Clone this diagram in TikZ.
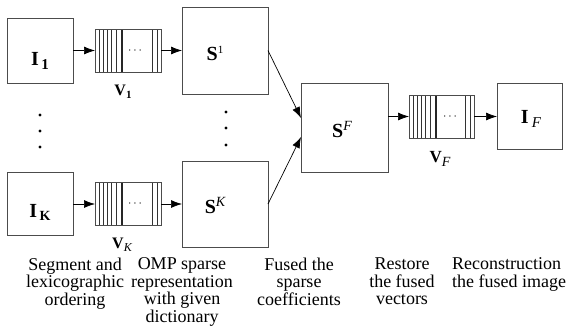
\documentclass[tikz,border=0pt]{standalone}
\usepackage{fontspec}
\setmainfont{Liberation Serif}[BoldFont={Liberation Serif Bold},ItalicFont={Liberation Serif Italic},BoldItalicFont={Liberation Serif Bold Italic}]
\usetikzlibrary{arrows.meta,calc}
\begin{document}
\begin{tikzpicture}[x=1pt,y=-1pt,
  box/.style={draw=black!70,line width=0.8pt,inner sep=0pt,outer sep=0pt},
  img/.style={box,minimum width=66pt,minimum height=65pt},
  coef/.style={box,minimum width=86pt,minimum height=87pt},
  vecbox/.style={box,minimum width=66pt,minimum height=43pt,
    font=\fontsize{12}{12}\selectfont,
    path picture={
      \foreach \d in {4,8,12,16,21}{
        \draw[line width=0.6pt,black!80] ([xshift=\d pt]path picture bounding box.south west) -- ([xshift=\d pt]path picture bounding box.north west);}
      \draw[line width=1.1pt,black!85] ([xshift=27pt]path picture bounding box.south west) -- ([xshift=27pt]path picture bounding box.north west);
      \foreach \d in {4,9}{
        \draw[line width=0.6pt,black!80] ([xshift=-\d pt]path picture bounding box.south east) -- ([xshift=-\d pt]path picture bounding box.north east);}
    }},
  arr/.style={-{Latex[length=11pt,width=8pt]},line width=0.7pt},
  lbl/.style={anchor=base,inner sep=0pt,font=\fontsize{20}{20}\selectfont},
  vlbl/.style={anchor=base,inner sep=0pt,font=\fontsize{17}{17}\selectfont},
  captxt/.style={anchor=north,inner sep=0pt,align=center,font=\fontsize{18}{17.6}\selectfont},
  dotfill/.style={fill=black}
]
\useasboundingbox (0,0) rectangle (571,327);

% boxes
\node[img] (I1) at (40,50.5) {};
\node[img,minimum height=63pt] (IK) at (40,204) {};
\node[vecbox] (V1) at (128,50.5) {\hspace{14pt}$\cdots$};
\node[vecbox] (VK) at (128,204) {\hspace{14pt}$\cdots$};
\node[coef] (S1) at (225,50.5) {};
\node[coef,minimum height=86pt] (SK) at (225,204) {};
\node[coef,minimum width=87pt,minimum height=89pt] (SF) at (344.5,127.5) {};
\node[vecbox,minimum width=65pt] (VF) at (441.5,116.5) {\hspace{17pt}$\cdots$};
\node[img,minimum width=65pt,minimum height=66pt] (IF) at (529.5,116) {};

% labels in boxes
\node[lbl] (I1t) at (40,65) {\textbf{I}\raisebox{-4pt}{\fontsize{15}{15}\selectfont\,\bfseries 1}};
\node[lbl] (IKt) at (40,217) {\textbf{I}\raisebox{-3pt}{\fontsize{14}{14}\selectfont\,\bfseries K}};
\node[lbl] (S1t) at (215,60) {\textbf{S}\raisebox{7pt}{\fontsize{11}{11}\selectfont 1}};
\node[lbl] (SKt) at (215,213) {\textbf{S}\raisebox{7pt}{\fontsize{14}{14}\selectfont\itshape K}};
\node[lbl] (SFt) at (342,137) {\textbf{S}\raisebox{7pt}{\fontsize{14}{14}\selectfont\itshape F}};
\node[lbl] (IFt) at (531,123) {\textbf{I}\,\raisebox{-4pt}{\fontsize{15}{15}\selectfont\itshape F}};

% vector labels
\node[vlbl,font=\fontsize{16}{16}\selectfont] (V1t) at (123,95) {\textbf{V}\raisebox{-3pt}{\fontsize{11}{11}\selectfont\bfseries 1}};
\node[vlbl,font=\fontsize{16}{16}\selectfont] (VKt) at (122,248) {\textbf{V}\raisebox{-3pt}{\fontsize{12}{12}\selectfont\itshape K}};
\node[vlbl] (VFt) at (440,162) {\textbf{V}\raisebox{-4pt}{\fontsize{14}{14}\selectfont\itshape F}};

% connectors
\draw[arr] (I1) -- (V1);
\draw[arr] (V1) -- (S1);
\draw[arr] (IK) -- (VK);
\draw[arr] (VK) -- (SK);
\draw[arr] (S1.east) -- ($(SF.west)+(0,-9.5)$);
\draw[arr] (SK.east) -- ($(SF.west)+(0,9.5)$);
\draw[arr] (SF.east |- VF.west) -- (VF.west);
\draw[arr] (VF.east) -- (VF.east -| IF.west);

% vertical ellipses
\foreach \yy in {115,131,147} \fill[dotfill] (40,\yy) circle (1.6);
\foreach \yy in {112,128,145} \fill[dotfill] (226,\yy) circle (1.6);

% captions
\node[captxt] (c1) at (75,257.5) {Segment and\\lexicographic\\ordering};
\node[captxt] (c2) at (182,257.5) {OMP sparse\\representation\\with given\\dictionary};
\node[captxt] (c3) at (299,257.5) {Fused the\\sparse\\coefficients};
\node[captxt] (c4) at (402,257.5) {Restore\\the fused\\vectors};
\node[captxt,anchor=north west,align=left] (c5) at (452,257.5) {Reconstruction\\the fused image};
\end{tikzpicture}
\end{document}
